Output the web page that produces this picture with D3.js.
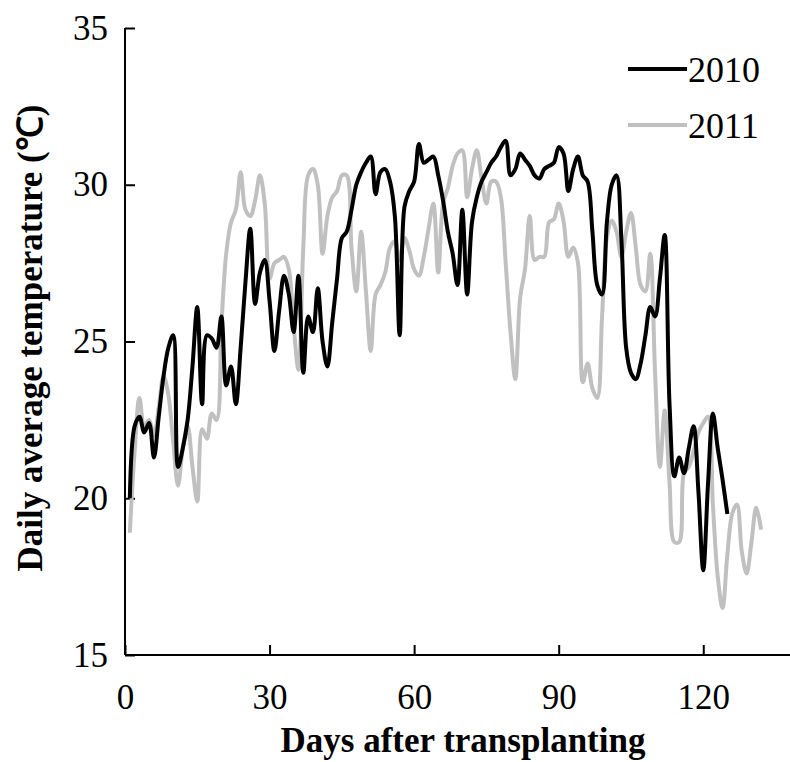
<!DOCTYPE html>
<html>
<head>
<meta charset="utf-8">
<script src="https://cdn.jsdelivr.net/npm/d3@7"></script>
<style>
  html, body { margin: 0; padding: 0; background: #fff; }
  svg { display: block; }
  text { font-family: "Liberation Serif", "Times New Roman", serif; fill: #000; }
</style>
</head>
<body>
<svg id="chart" width="790" height="762"></svg>
<script>
// ---- Data ----
const seriesNames = ["2010", "2011"];
const temp2010 = [
  20.0, 22.3, 22.6, 22.1, 22.4, 21.3, 22.6, 23.9, 24.8, 25.2,
  21.0, 21.6, 22.5, 24.2, 26.1, 23.0, 25.2, 25.1, 24.8, 25.8,
  23.6, 24.2, 23.0, 24.8, 26.9, 28.6, 26.2, 27.2, 27.6, 26.3,
  24.7, 26.0, 27.1, 26.5, 25.3, 27.1, 24.0, 25.8, 25.3, 26.7,
  25.0, 24.2, 25.6, 27.0, 28.3, 28.5, 29.2, 30.0, 30.4, 30.7,
  30.9, 29.7, 30.4, 30.5, 30.1, 29.0, 25.2, 29.3, 29.8, 30.1,
  31.3, 30.7, 30.8, 30.9, 30.3, 29.5, 28.5, 27.8, 26.8, 29.2,
  26.5, 28.8, 29.6, 30.1, 30.4, 30.7, 30.9, 31.2, 31.4, 30.3,
  30.5, 31.0, 30.8, 30.6, 30.3, 30.2, 30.5, 30.6, 30.7, 31.2,
  31.0, 29.8, 30.5, 30.9, 30.3, 30.1, 28.5, 26.8, 26.5, 28.8,
  30.0, 30.3, 28.3, 24.8, 24.0, 23.8, 24.3, 25.2, 26.1, 25.8,
  27.0, 28.4, 23.0, 20.7, 21.3, 20.8, 21.6, 22.3, 20.2, 17.7,
  20.5, 22.7, 21.6, 20.6, 19.5
];
const temp2011 = [
  18.9, 21.5, 23.2, 22.3, 22.5, 22.0, 22.9, 23.9, 23.3, 21.8,
  20.4, 21.6, 22.3, 21.0, 19.9, 22.2, 21.9, 22.7, 22.5, 25.5,
  27.8, 28.8, 29.2, 30.4, 29.2, 29.0, 29.5, 30.3, 29.4, 27.0,
  27.5, 27.6, 27.7, 27.3, 25.5, 24.1, 28.0, 30.3, 30.5, 30.0,
  27.8, 29.0, 29.6, 29.8, 30.3, 30.3, 28.0, 26.6, 28.5, 26.6,
  24.7, 26.5, 26.8, 27.2, 28.0, 28.2, 27.6, 28.3, 27.9, 27.3,
  27.1, 27.7, 28.6, 29.4, 27.2, 29.4, 29.9, 30.6, 31.0, 31.1,
  29.6, 30.5, 31.1, 30.2, 29.4, 30.1, 30.1, 29.6, 27.5, 25.3,
  23.8, 26.4, 27.3, 29.0, 27.6, 27.7, 27.7, 28.8, 28.9, 29.4,
  28.85, 27.7, 28.0, 27.5, 23.7, 24.3, 23.5, 23.2, 25.8, 28.3,
  28.85, 28.5, 27.7, 28.5, 29.1, 28.0, 26.8, 26.6, 27.8, 24.0,
  21.0, 22.8, 20.5, 18.6, 18.6, 20.8, 21.0, 21.5, 22.1, 22.4,
  22.6, 19.8, 17.5, 16.5, 18.2, 19.5, 19.8, 18.3, 17.6, 18.6,
  19.7, 19.0
];
const xTicks = [0, 30, 60, 90, 120];
const yTicks = [15, 20, 25, 30, 35];
const seriesColors = ["#000000", "#c0c0c0"];

// ---- Layout ----
const svg = d3.select("#chart");
const mLeft = 125, mRight = 790, mTop = 28, mBottom = 655;

const x = d3.scaleLinear().domain([0, 138]).range([mLeft, mRight]);
const y = d3.scaleLinear().domain([15, 35]).range([mBottom, mTop]);

// Axes
const yAxis = d3.axisLeft(y).tickValues(yTicks).tickSize(-10).tickPadding(17).tickFormat(d3.format("d"));
const xAxis = d3.axisBottom(x).tickValues(xTicks).tickSize(-10).tickPadding(29).tickFormat(d3.format("d"));

const gy = svg.append("g").attr("transform", `translate(${mLeft},0)`).call(yAxis);
const gx = svg.append("g").attr("transform", `translate(0,${mBottom})`).call(xAxis);

[gx, gy].forEach(g => {
  g.select(".domain").attr("stroke", "#000").attr("stroke-width", 2);
  g.selectAll(".tick line").attr("stroke", "#000").attr("stroke-width", 2);
  g.selectAll(".tick text").style("font-family", "'Liberation Serif', serif").style("font-size", "35px").attr("fill", "#000");
});
gx.select(".domain").attr("d", `M${mLeft},0H${mRight}`);
gy.select(".domain").attr("d", `M0,${mBottom}V${mTop}`);

// Lines
const line = d3.line()
  .x((d, i) => x(i + 1))
  .y(d => y(d))
  .curve(d3.curveCatmullRom.alpha(0.5));

svg.append("path").datum(temp2011)
  .attr("d", line).attr("fill", "none")
  .attr("stroke", seriesColors[1]).attr("stroke-width", 4).attr("stroke-linejoin", "round");
svg.append("path").datum(temp2010)
  .attr("d", line).attr("fill", "none")
  .attr("stroke", seriesColors[0]).attr("stroke-width", 4).attr("stroke-linejoin", "round");

// Legend
const legend = svg.append("g");
const legY = [69, 125];
seriesNames.forEach((name, i) => {
  legend.append("line")
    .attr("x1", 628).attr("x2", 687)
    .attr("y1", legY[i]).attr("y2", legY[i])
    .attr("stroke", seriesColors[i]).attr("stroke-width", 4);
  legend.append("text")
    .attr("x", 688).attr("y", legY[i])
    .attr("dy", "0.35em")
    .style("font-size", "36px")
    .text(name);
});

// Axis titles
svg.append("text")
  .attr("x", 463).attr("y", 752)
  .attr("text-anchor", "middle")
  .style("font-size", "35px").style("font-weight", "bold")
  .text("Days after transplanting");

svg.append("text")
  .attr("transform", `translate(42,338) rotate(-90)`)
  .attr("text-anchor", "middle")
  .style("font-size", "35px").style("font-weight", "bold")
  .text("Daily average temperature (℃)");
</script>
</body>
</html>
